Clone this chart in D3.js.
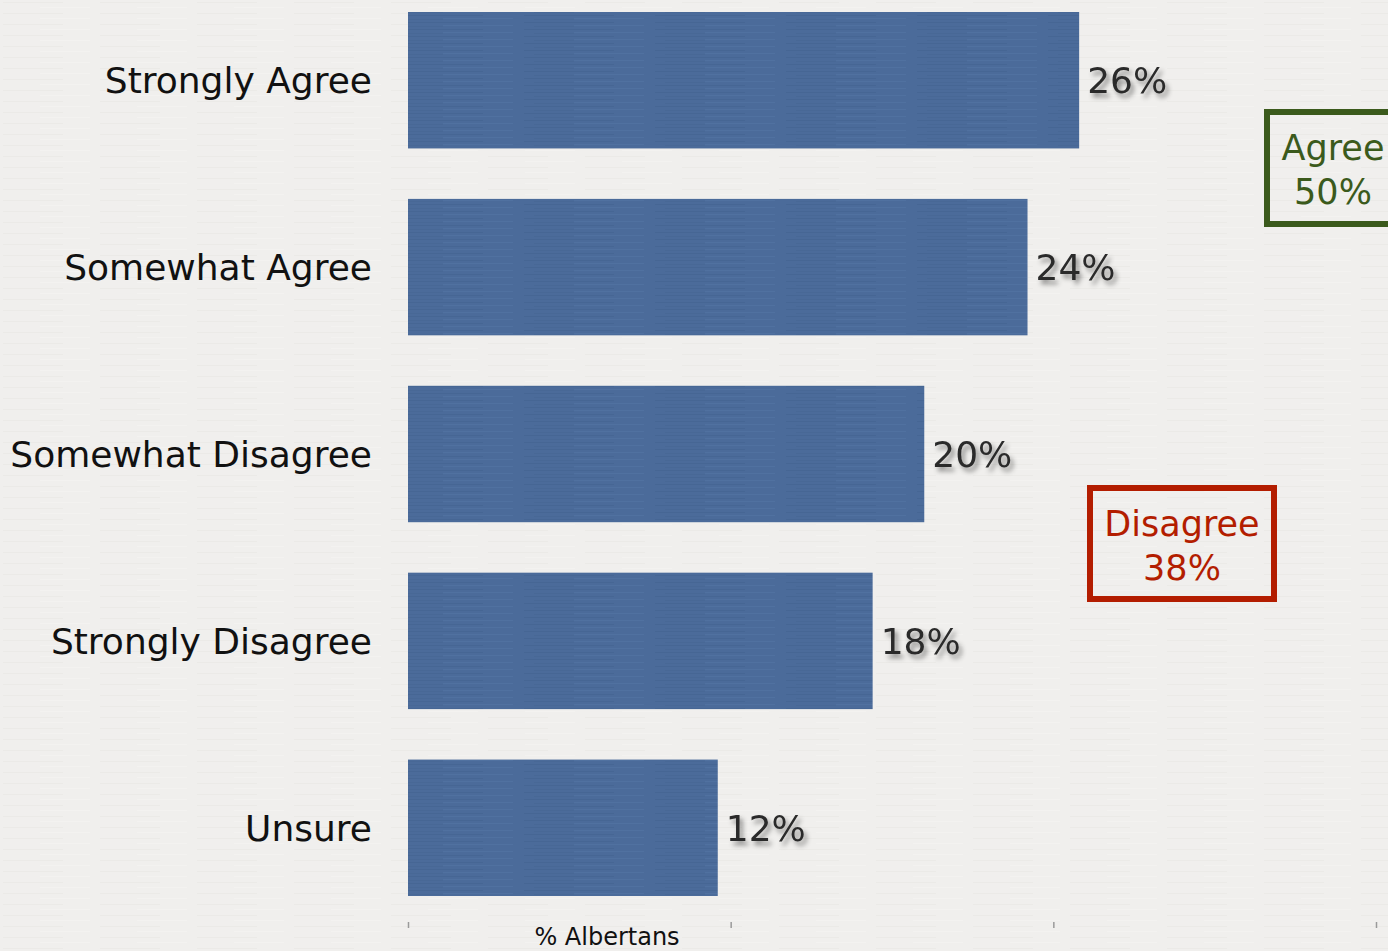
<!DOCTYPE html>
<html>
<head>
<meta charset="utf-8">
<script src="https://cdn.jsdelivr.net/npm/d3@7"></script>
<style>
body{margin:0;background:#f0efed;}
svg{display:block;}
text{font-family:"DejaVu Sans",Verdana,sans-serif;}
</style>
</head>
<body>
<div id="chart"></div>
<script>
// data
var categories = ["Strongly Agree","Somewhat Agree","Somewhat Disagree","Strongly Disagree","Unsure"];
var values = [26, 24, 20, 18, 12];
var tickValues = [0, 12.5, 25, 37.5];
var groupNames = ["Agree", "Disagree"];
var groupValues = [50, 38];

var width = 1388;
var height = 951;

var svg = d3.select("#chart").append("svg")
  .attr("width", width)
  .attr("height", height);

var defs = svg.append("defs");

/* paper texture for background */
var bgPat = defs.append("pattern")
  .attr("id", "paper")
  .attr("width", 97).attr("height", 11)
  .attr("patternUnits", "userSpaceOnUse");
bgPat.append("rect").attr("width", 97).attr("height", 11).attr("fill", "#f0efed");
bgPat.append("rect").attr("x", 3).attr("y", 2).attr("width", 60).attr("height", 1).attr("fill", "#ebeae7");
bgPat.append("rect").attr("x", 40).attr("y", 7).attr("width", 50).attr("height", 1).attr("fill", "#f3f2f0");

/* brushed texture for bars */
var barPat = defs.append("pattern")
  .attr("id", "brushed")
  .attr("width", 131).attr("height", 7)
  .attr("patternUnits", "userSpaceOnUse");
barPat.append("rect").attr("width", 131).attr("height", 7).attr("fill", "#4b6b9a");
barPat.append("rect").attr("x", 0).attr("y", 1).attr("width", 90).attr("height", 1).attr("fill", "#466694");
barPat.append("rect").attr("x", 50).attr("y", 4).attr("width", 70).attr("height", 1).attr("fill", "#5071a0");
barPat.append("rect").attr("x", 10).attr("y", 5).attr("width", 40).attr("height", 1).attr("fill", "#486896");

/* drop shadow for value labels */
var shadow = defs.append("filter").attr("id", "shadow")
  .attr("x", "-20%").attr("y", "-20%").attr("width", "150%").attr("height", "160%");
shadow.append("feDropShadow")
  .attr("dx", 3).attr("dy", 4).attr("stdDeviation", 2.5)
  .attr("flood-color", "#000").attr("flood-opacity", 0.45);

svg.append("rect")
  .attr("width", width).attr("height", height)
  .attr("fill", "url(#paper)");

/* Scale */
var xScale = d3.scaleLinear()
  .domain([0, 37.5])
  .range([408, 1376]);

var yScale = d3.scaleBand()
  .domain(categories)
  .range([12, 896])
  .paddingInner(0.27)
  .paddingOuter(0);

/* bars */
svg.selectAll(".bar")
  .data(values)
  .enter()
  .append("rect")
  .attr("class", "bar")
  .attr("x", xScale(0))
  .attr("y", (d, i) => yScale(categories[i]))
  .attr("width", d => xScale(d) - xScale(0))
  .attr("height", yScale.bandwidth())
  .attr("fill", "url(#brushed)");

/* category labels */
svg.selectAll(".cat")
  .data(categories)
  .enter()
  .append("text")
  .attr("class", "cat")
  .attr("x", 372)
  .attr("y", d => yScale(d) + yScale.bandwidth() / 2)
  .attr("dy", "0.36em")
  .attr("text-anchor", "end")
  .attr("font-size", "36px")
  .attr("fill", "#111")
  .text(d => d);

/* value labels */
svg.selectAll(".val")
  .data(values)
  .enter()
  .append("text")
  .attr("class", "val")
  .attr("x", d => xScale(d) + 8)
  .attr("y", (d, i) => yScale(categories[i]) + yScale.bandwidth() / 2)
  .attr("dy", "0.36em")
  .attr("font-size", "36px")
  .attr("fill", "#2b2b2b")
  .attr("filter", "url(#shadow)")
  .text(d => d + "%");

/* x axis: ticks only */
var xAxis = d3.axisBottom(xScale)
  .tickValues(tickValues)
  .tickSize(6)
  .tickFormat("");

var ax = svg.append("g")
  .attr("transform", "translate(0,922)")
  .call(xAxis);
ax.select(".domain").remove();
ax.selectAll(".tick line").attr("stroke", "#9a9a9a").attr("stroke-width", 1.5);

svg.append("text")
  .attr("x", 607)
  .attr("y", 945)
  .attr("text-anchor", "middle")
  .attr("font-size", "24px")
  .attr("fill", "#111")
  .text("% Albertans");

/* summary boxes */
var boxes = [
  {name: groupNames[0], value: groupValues[0], x: 1264, y: 109, w: 140, h: 118, color: "#3b5a1c", cx: 1333},
  {name: groupNames[1], value: groupValues[1], x: 1087, y: 485, w: 190, h: 117, color: "#b31d00", cx: 1182}
];

boxes.forEach(function(b) {
  svg.append("rect")
    .attr("x", b.x + 3).attr("y", b.y + 3)
    .attr("width", b.w - 6).attr("height", b.h - 6)
    .attr("fill", "none")
    .attr("stroke", b.color)
    .attr("stroke-width", 6);
  svg.append("text")
    .attr("x", b.cx).attr("y", b.y + 51)
    .attr("text-anchor", "middle")
    .attr("font-size", "35px")
    .attr("fill", b.color)
    .text(b.name);
  svg.append("text")
    .attr("x", b.cx).attr("y", b.y + 95)
    .attr("text-anchor", "middle")
    .attr("font-size", "35px")
    .attr("fill", b.color)
    .text(b.value + "%");
});
</script>
</body>
</html>
